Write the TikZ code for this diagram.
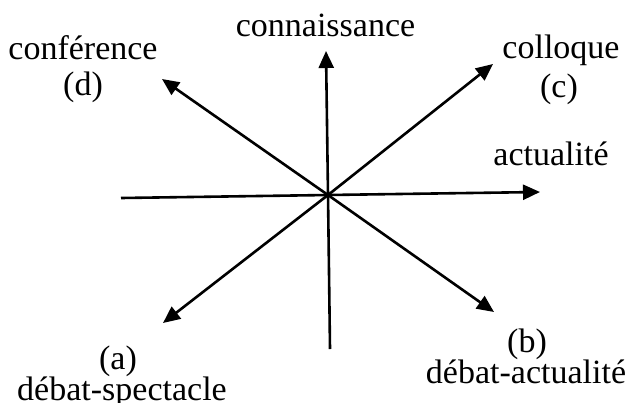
\documentclass[tikz,border=0pt]{standalone}
\usepackage{fontspec}
\setmainfont{Liberation Serif}
\usetikzlibrary{arrows.meta}
\begin{document}
\begin{tikzpicture}[x=1pt,y=-1pt,
  axis/.style={line width=2.6pt},
  arr/.style={axis,-{Triangle[length=17pt,width=15pt]}},
  lbl/.style={anchor=base,inner sep=0pt,font=\fontsize{34}{40}\selectfont}]
\useasboundingbox (0,0) rectangle (628,402);
\coordinate (O) at (328,195);
\coordinate (W) at (121,198);
\coordinate (E) at (540,192);
\coordinate (S) at (330,349);
\coordinate (N) at (326,51);
\coordinate (NE) at (493,64);
\coordinate (NW) at (162,79);
\coordinate (SW) at (163,323);
\coordinate (SE) at (494,312);
\draw[axis] (W) -- (O);
\draw[arr] (O) -- (E);
\draw[axis] (S) -- (O);
\draw[arr] (O) -- (N);
\draw[arr] (O) -- (NE);
\draw[arr] (O) -- (NW);
\draw[arr] (O) -- (SW);
\draw[arr] (O) -- (SE);
\node[lbl] (conn) at (325.5,36) {connaissance};
\node[lbl] (conf) at (83,59) {conférence};
\node[lbl] (d) at (83,95) {(d)};
\node[lbl] (coll) at (561,58) {colloque};
\node[lbl] (c) at (559,97) {(c)};
\node[lbl] (act) at (551,165) {actualité};
\node[lbl] (b) at (527,352) {(b)};
\node[lbl] (dact) at (526,383) {débat-actualité};
\node[lbl] (a) at (118,369) {(a)};
\node[lbl] (dspec) at (122,400) {débat-spectacle};
\end{tikzpicture}
\end{document}
